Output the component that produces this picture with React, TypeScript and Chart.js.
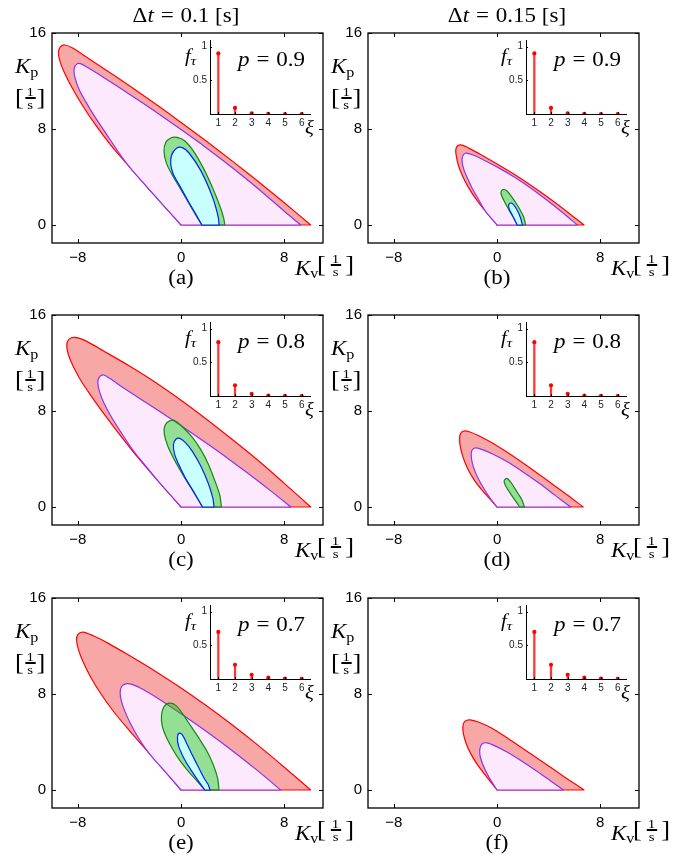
import React, { useEffect, useRef } from 'react';
import { Chart, registerables } from 'chart.js';
Chart.register(...registerables);

// ---------- data ----------
const kvTicks = [-8, 0, 8];
const kpTicks = [0, 8, 16];
const xiTicks = [1, 2, 3, 4, 5, 6];
const fTicks = [0.5, 1];
const xiValues = [1, 2, 3, 4, 5, 6];
const fTau09 = [0.9, 0.09, 0.009, 0.001, 0.0001, 0.00001];
const fTau08 = [0.8, 0.16, 0.032, 0.0064, 0.0013, 0.0003];
const fTau07 = [0.7, 0.21, 0.063, 0.019, 0.0057, 0.0017];

type P = [number, number];
// (a) dt=0.1, p=0.9
const redA: P[] = [[0,0],[10.05,0],[10.05,0],[8,1.85],[6,3.6],[4,5.3],[2,6.95],[0,8.55],[-2,10.1],[-4,11.6],[-6,13.05],[-7.4,14.05],[-8.4,14.75],[-9.0,15.0],[-9.35,14.85],[-9.5,14.4],[-9.4,13.7],[-9.0,12.6],[-8.4,11.35],[-7.6,9.9],[-6.6,8.3],[-5.4,6.6],[-4.0,4.85],[-2.6,3.12],[-1.3,1.56],[0,0]];
const purpleA: P[] = [[0,0],[9.28,0],[9.28,0],[8,1.15],[6,3.0],[4,4.75],[2,6.4],[0,7.95],[-2,9.45],[-4,10.9],[-6,12.3],[-7.2,13.1],[-7.8,13.45],[-8.15,13.35],[-8.3,12.9],[-8.2,12.2],[-7.9,11.3],[-7.4,10.3],[-6.7,9.05],[-5.8,7.6],[-4.8,6.0],[-4.0,4.85],[-2.6,3.12],[-1.3,1.56],[0,0]];
const greenA: P[] = [[1.6,0],[3.39,0],[3.39,0],[3.3,0.6],[3.0,1.6],[2.4,3.2],[1.7,4.8],[1.0,6.1],[0.3,7.0],[-0.3,7.3],[-0.8,7.25],[-1.2,6.85],[-1.32,6.15],[-1.15,5.2],[-0.75,4.3],[-0.2,3.3],[0.5,2.0],[1.1,0.9],[1.6,0]];
const blueA: P[] = [[1.62,0],[2.95,0],[2.95,0],[2.87,0.73],[2.43,2.36],[1.53,4.53],[0.62,6.0],[0.1,6.45],[-0.35,6.4],[-0.72,5.85],[-0.8,5.1],[-0.62,4.3],[-0.12,3.3],[0.55,2.0],[1.12,0.95],[1.62,0]];
// (b) dt=0.15, p=0.9
const redB: P[] = [[0,0],[6.74,0],[6.74,0],[5.5,1.05],[4.2,2.1],[2.9,3.1],[1.6,4.05],[0.3,4.9],[-1.0,5.7],[-2.0,6.3],[-2.7,6.65],[-3.05,6.6],[-3.2,6.25],[-3.15,5.7],[-3.0,5.0],[-2.7,4.15],[-2.25,3.2],[-1.65,2.2],[-0.9,1.15],[0,0]];
const purpleB: P[] = [[0,0],[6.22,0],[6.22,0],[5.0,1.1],[3.8,2.12],[2.6,3.08],[1.4,3.95],[0.2,4.72],[-1.0,5.4],[-1.9,5.85],[-2.45,5.98],[-2.68,5.7],[-2.7,5.2],[-2.55,4.55],[-2.25,3.8],[-1.9,3.0],[-1.5,2.25],[-0.9,1.15],[0,0]];
const greenB: P[] = [[1.57,0],[2.22,0],[2.22,0],[2.05,0.7],[1.6,1.6],[1.1,2.4],[0.75,2.85],[0.45,2.95],[0.3,2.7],[0.5,2.1],[0.95,1.2],[1.3,0.55],[1.57,0]];
const blueB: P[] = [[1.57,0],[1.96,0],[1.96,0],[1.82,0.6],[1.5,1.35],[1.2,1.78],[0.97,1.8],[0.9,1.5],[1.12,0.95],[1.38,0.42],[1.57,0]];
// (c) dt=0.1, p=0.8
const redC: P[] = [[0,0],[10.05,0],[10.05,0],[8,1.97],[6,3.85],[4,5.6],[2,7.3],[0,8.9],[-2,10.4],[-4,11.75],[-6,13.0],[-7.3,13.8],[-8.0,14.1],[-8.5,14.1],[-8.8,13.8],[-8.85,13.3],[-8.7,12.6],[-8.35,11.7],[-7.8,10.6],[-7.0,9.3],[-6.0,7.8],[-4.8,6.1],[-3.4,4.2],[-1.8,2.2],[0,0]];
const purpleC: P[] = [[0,0],[8.5,0],[8.5,0],[7,1.3],[5,2.95],[3,4.55],[1,6.05],[-1,7.5],[-3,8.9],[-4.5,9.95],[-5.5,10.7],[-6.0,11.0],[-6.35,10.8],[-6.45,10.3],[-6.3,9.55],[-5.95,8.6],[-5.4,7.5],[-4.7,6.3],[-3.9,5.0],[-3.0,3.75],[-1.8,2.2],[0,0]];
const greenC: P[] = [[1.65,0],[3.13,0],[3.13,0],[3.0,1.0],[2.56,2.36],[2.1,3.6],[1.52,4.8],[0.8,5.9],[0.1,6.69],[-0.4,7.15],[-0.85,7.2],[-1.25,6.8],[-1.3,6.1],[-1.0,5.0],[-0.45,3.8],[0.3,2.4],[1.0,1.2],[1.65,0]];
const blueC: P[] = [[1.67,0],[2.56,0],[2.56,0],[2.45,0.8],[2.1,2.0],[1.52,3.44],[0.9,4.6],[0.36,5.34],[-0.1,5.72],[-0.4,5.65],[-0.59,5.2],[-0.5,4.4],[-0.2,3.6],[0.32,2.45],[1.02,1.2],[1.67,0]];
// (d) dt=0.15, p=0.8
const redD: P[] = [[0,0],[6.68,0],[6.68,0],[5.5,0.96],[4.3,1.9],[3.1,2.84],[1.9,3.75],[0.7,4.62],[-0.5,5.42],[-1.5,5.98],[-2.1,6.25],[-2.5,6.34],[-2.8,6.18],[-2.9,5.75],[-2.85,5.05],[-2.65,4.2],[-2.3,3.25],[-1.8,2.3],[-1.2,1.45],[-0.6,0.72],[0,0]];
const purpleD: P[] = [[0,0],[5.7,0],[5.7,0],[4.5,0.97],[3.3,1.95],[2.1,2.85],[0.9,3.7],[-0.3,4.4],[-1.2,4.8],[-1.7,4.93],[-1.95,4.7],[-2.0,4.25],[-1.9,3.6],[-1.7,2.95],[-1.4,2.25],[-1.0,1.5],[-0.55,0.75],[0,0]];
const greenD: P[] = [[1.75,0],[2.12,0],[2.12,0],[1.95,0.55],[1.7,1.0],[1.35,1.6],[1.0,2.15],[0.75,2.38],[0.55,2.2],[0.65,1.8],[1.05,1.1],[1.4,0.55],[1.75,0]];
// (e) dt=0.1, p=0.7
const redE: P[] = [[0,0],[10.04,0],[10.04,0],[8,1.9],[6,3.7],[4,5.4],[2,7.0],[0,8.5],[-2,9.9],[-4,11.2],[-5.6,12.2],[-6.8,12.85],[-7.6,13.15],[-8.0,12.95],[-8.1,12.5],[-7.95,11.7],[-7.6,10.7],[-7.0,9.4],[-6.2,8.0],[-5.2,6.5],[-4.0,4.95],[-2.7,3.35],[-1.35,1.68],[0,0]];
const purpleE: P[] = [[0,0],[7.72,0],[7.72,0],[6,1.55],[4,3.25],[2,4.85],[0,6.35],[-1.6,7.5],[-2.9,8.35],[-3.8,8.8],[-4.3,8.85],[-4.62,8.6],[-4.72,8.1],[-4.62,7.4],[-4.35,6.55],[-3.95,5.6],[-3.45,4.6],[-2.85,3.6],[-2.2,2.7],[-1.35,1.68],[0,0]];
const greenE: P[] = [[1.83,0],[2.94,0],[2.94,0],[2.85,0.9],[2.5,2.1],[2.04,3.17],[1.4,4.3],[0.75,5.34],[0.15,6.3],[-0.41,7.05],[-0.93,7.24],[-1.35,6.9],[-1.52,6.15],[-1.45,5.3],[-1.19,4.53],[-0.65,3.4],[-0.03,2.36],[0.65,1.45],[1.26,0.73],[1.83,0]];
const blueE: P[] = [[1.85,0],[2.25,0],[2.25,0],[2.1,0.45],[1.78,1.0],[1.3,2.0],[0.88,2.9],[0.45,3.85],[0.1,4.6],[-0.15,4.74],[-0.28,4.4],[-0.2,3.7],[0.23,2.63],[0.75,1.7],[1.28,0.85],[1.85,0]];
// (f) dt=0.15, p=0.7
const redF: P[] = [[0,0],[6.74,0],[6.74,0],[5.6,0.82],[4.4,1.7],[3.2,2.58],[2.0,3.46],[0.8,4.33],[-0.4,5.15],[-1.4,5.65],[-2.1,5.85],[-2.5,5.72],[-2.65,5.3],[-2.6,4.65],[-2.4,3.9],[-2.05,3.05],[-1.55,2.15],[-0.85,1.15],[0,0]];
const purpleF: P[] = [[0,0],[5.14,0],[5.14,0],[4.1,0.8],[3.0,1.63],[1.9,2.42],[0.8,3.15],[-0.2,3.7],[-0.8,3.93],[-1.15,3.85],[-1.33,3.45],[-1.33,2.95],[-1.2,2.4],[-0.95,1.75],[-0.62,1.05],[-0.3,0.5],[0,0]];

const dtLabels = ['0.1', '0.15'];
const panels = [
  { id: 'a', col: 0, row: 0, p: '0.9', f: fTau09, regions: [redA, purpleA, greenA, blueA] },
  { id: 'b', col: 1, row: 0, p: '0.9', f: fTau09, regions: [redB, purpleB, greenB, blueB] },
  { id: 'c', col: 0, row: 1, p: '0.8', f: fTau08, regions: [redC, purpleC, greenC, blueC] },
  { id: 'd', col: 1, row: 1, p: '0.8', f: fTau08, regions: [redD, purpleD, greenD] },
  { id: 'e', col: 0, row: 2, p: '0.7', f: fTau07, regions: [redE, purpleE, greenE, blueE] },
  { id: 'f', col: 1, row: 2, p: '0.7', f: fTau07, regions: [redF, purpleF] },
];

// ---------- layout / style ----------
const W = 271, H = 215;
const colLeft = [52, 368];
const rowTop = [28, 310, 593];
const titleCenter = [186, 507];
const PAD_L = 45, PAD_T = 10, PAD_R = 10, PAD_B = 30;
const SANS = "'Liberation Sans', Arial, sans-serif";
const SERIF = "'Liberation Serif', 'Times New Roman', serif";
const regionStyles = [
  { line: '#ff0000', fill: '#f8a7a7' },
  { line: '#9030f0', fill: '#fde9fd' },
  { line: '#118a11', fill: 'rgba(0,210,0,0.42)' },
  { line: '#0022ff', fill: '#c8ffff' },
];

const fillPlugin = {
  id: 'regionFill',
  beforeDatasetDraw(chart: any, args: any) {
    const meta = args.meta;
    const el = meta.dataset;
    const ds: any = chart.data.datasets[args.index];
    if (!el || !ds || !ds.regionFill) return;
    const ctx = chart.ctx;
    const a = chart.chartArea;
    ctx.save();
    ctx.beginPath();
    ctx.rect(a.left, a.top, a.right - a.left, a.bottom - a.top);
    ctx.clip();
    if (typeof el.updateControlPoints === 'function') el.updateControlPoints(a, 'x');
    ctx.beginPath();
    if (typeof el.path === 'function') {
      el.path(ctx);
    } else {
      meta.data.forEach((pt: any, i: number) => (i ? ctx.lineTo(pt.x, pt.y) : ctx.moveTo(pt.x, pt.y)));
    }
    ctx.closePath();
    ctx.fillStyle = ds.regionFill;
    ctx.fill();
    ctx.restore();
  },
};

const boxPlugin = {
  id: 'mbox',
  afterDraw(chart: any) {
    const { ctx, chartArea: a, scales } = chart;
    ctx.save();
    ctx.strokeStyle = '#000';
    ctx.lineWidth = 1.3;
    ctx.strokeRect(a.left, a.top, a.right - a.left, a.bottom - a.top);
    ctx.lineWidth = 1;
    const tl = 4;
    ctx.beginPath();
    for (const v of kvTicks) {
      const x = Math.round(scales.x.getPixelForValue(v)) + 0.5;
      ctx.moveTo(x, a.bottom); ctx.lineTo(x, a.bottom - tl);
      ctx.moveTo(x, a.top); ctx.lineTo(x, a.top + tl);
    }
    for (const v of kpTicks) {
      const y = Math.round(scales.y.getPixelForValue(v)) + 0.5;
      ctx.moveTo(a.left, y); ctx.lineTo(a.left + tl, y);
      ctx.moveTo(a.right, y); ctx.lineTo(a.right - tl, y);
    }
    ctx.stroke();
    ctx.restore();
  },
};

const insetTickPlugin = {
  id: 'itick',
  afterDraw(chart: any) {
    const { ctx, chartArea: a, scales } = chart;
    ctx.save();
    ctx.strokeStyle = '#000';
    ctx.lineWidth = 1;
    ctx.beginPath();
    for (const v of fTicks) {
      const y = Math.round(scales.y.getPixelForValue(v)) + 0.5;
      ctx.moveTo(a.left, y); ctx.lineTo(a.left + 2, y);
    }
    for (const v of xiTicks) {
      const x = Math.round(scales.x.getPixelForValue(v)) + 0.5;
      ctx.moveTo(x, a.bottom); ctx.lineTo(x, a.bottom - 2);
    }
    ctx.stroke();
    ctx.restore();
  },
};

const minus = (v: number) => (v < 0 ? '\u2212' + Math.abs(v) : String(v));

function RegionChart({ left, top, regions }: { left: number; top: number; regions: P[][] }) {
  const ref = useRef<HTMLCanvasElement>(null);
  useEffect(() => {
    const chart = new Chart(ref.current as HTMLCanvasElement, {
      type: 'line',
      data: {
        datasets: regions.map((pts, i) => ({
          data: pts.map(([x, y]) => ({ x, y })),
          borderColor: regionStyles[i].line,
          backgroundColor: regionStyles[i].fill,
          regionFill: regionStyles[i].fill,
          borderWidth: 1.2,
          borderJoinStyle: 'round',
          borderCapStyle: 'round',
          pointRadius: 0,
          tension: 0.3,
          fill: false,
          order: 10 - i,
        })) as any,
      },
      options: {
        responsive: false,
        animation: false,
        events: [],
        layout: { padding: { left: 0, top: PAD_T, right: PAD_R, bottom: 0 } },
        plugins: { legend: { display: false }, tooltip: { enabled: false } },
        scales: {
          x: {
            type: 'linear', min: -10, max: 11,
            grid: { display: false, drawTicks: false },
            border: { display: false },
            ticks: { font: { family: SANS, size: 15 }, color: '#000', padding: 6, callback: (v: any) => minus(Number(v)) },
            afterBuildTicks: (s: any) => { s.ticks = kvTicks.map((v) => ({ value: v })); },
            afterFit: (s: any) => { s.height = PAD_B; },
          },
          y: {
            type: 'linear', min: -1.5, max: 16,
            grid: { display: false, drawTicks: false },
            border: { display: false },
            ticks: { font: { family: SANS, size: 15 }, color: '#000', padding: 6 },
            afterBuildTicks: (s: any) => { s.ticks = kpTicks.map((v) => ({ value: v })); },
            afterFit: (s: any) => { s.width = PAD_L; },
          },
        },
      } as any,
      plugins: [fillPlugin, boxPlugin],
    });
    return () => chart.destroy();
  }, []);
  return (
    <canvas
      ref={ref}
      width={PAD_L + W + PAD_R}
      height={PAD_T + H + PAD_B}
      style={{ position: 'absolute', left: left - PAD_L, top: top - PAD_T }}
    />
  );
}

const IW = 100, IH = 79, IL = 24, IT = 4, IR = 6, IB = 16;
function InsetChart({ left, top, values }: { left: number; top: number; values: number[] }) {
  const ref = useRef<HTMLCanvasElement>(null);
  useEffect(() => {
    const pts = xiValues.map((x, i) => ({ x, y: values[i] }));
    const chart = new Chart(ref.current as HTMLCanvasElement, {
      type: 'bar',
      data: {
        datasets: [
          { type: 'scatter', data: pts, pointRadius: 2.1, pointBackgroundColor: '#ff0000', pointBorderWidth: 0, backgroundColor: '#ff0000', order: 0 } as any,
          { type: 'bar', data: pts, backgroundColor: '#ff3535', barThickness: 1.6, order: 1 } as any,
        ],
      },
      options: {
        responsive: false,
        animation: false,
        events: [],
        layout: { padding: { left: 0, top: IT, right: IR, bottom: 0 } },
        plugins: { legend: { display: false }, tooltip: { enabled: false } },
        scales: {
          x: {
            type: 'linear', min: 0.5, max: 6.5, offset: false,
            grid: { display: false, drawTicks: false, offset: false },
            border: { display: true, color: '#000', width: 1 },
            ticks: { font: { family: SANS, size: 10 }, color: '#222', padding: 3, callback: (v: any) => String(Number(v)) },
            afterBuildTicks: (s: any) => { s.ticks = xiTicks.map((v) => ({ value: v })); },
            afterFit: (s: any) => { s.height = IB; },
          },
          y: {
            type: 'linear', min: 0, max: 1.1,
            grid: { display: false, drawTicks: false },
            border: { display: true, color: '#000', width: 1 },
            ticks: { font: { family: SANS, size: 10 }, color: '#222', padding: 3, callback: (v: any) => String(Number(v)) },
            afterBuildTicks: (s: any) => { s.ticks = fTicks.map((v) => ({ value: v })); },
            afterFit: (s: any) => { s.width = IL; },
          },
        },
      } as any,
      plugins: [insetTickPlugin],
    });
    return () => chart.destroy();
  }, []);
  return (
    <canvas
      ref={ref}
      width={IL + IW + IR}
      height={IT + IH + IB}
      style={{ position: 'absolute', left: left - IL, top: top - IT }}
    />
  );
}

const SX = 1.15;
const base = (fs: number): React.CSSProperties => ({
  position: 'absolute', fontFamily: SERIF, fontSize: fs, lineHeight: `${fs}px`,
  whiteSpace: 'nowrap', color: '#000', transform: `scaleX(${SX})`, transformOrigin: 'left center',
});
const topOf = (baseline: number, fs: number) => baseline - 0.8375 * fs;
const sub = (fs: number, dy: number, italic = false): React.CSSProperties => ({
  fontSize: fs, position: 'relative', top: dy, fontStyle: italic ? 'italic' : 'normal',
});

function Bracket({ left, top, gap }: { left: number; top: number; gap: number }) {
  return (
    <div style={{ ...base(23), left, top, height: 24, display: 'flex', alignItems: 'center' }}>
      <span style={{ fontSize: 23, lineHeight: '24px' }}>[</span>
      <span style={{ display: 'flex', flexDirection: 'column', alignItems: 'center', margin: `0 ${gap}px`, fontSize: 13 }}>
        <span style={{ lineHeight: '11px' }}>1</span>
        <span style={{ width: 9, height: 1.2, background: '#000', margin: '0.5px 0' }} />
        <span style={{ lineHeight: '11px' }}>s</span>
      </span>
      <span style={{ fontSize: 23, lineHeight: '24px' }}>]</span>
    </div>
  );
}

function PanelTexts({ L, T, id, p }: { L: number; T: number; id: string; p: string }) {
  return (
    <>
      <div style={{ ...base(20), left: L - 37, top: topOf(T + 45, 20) }}>
        <i>K</i><span style={sub(14, 4)}>p</span>
      </div>
      <Bracket left={L - 37} top={T + 58} gap={1} />
      <div style={{ ...base(20), left: L + 243, top: topOf(T + 247, 20) }}>
        <i>K</i><span style={sub(14, 3)}>v</span>
      </div>
      <Bracket left={L + 265} top={T + 225} gap={4} />
      <div style={{ ...base(20), left: L + 128.5, top: topOf(T + 256, 20), transform: `translateX(-50%) scaleX(${SX})`, transformOrigin: 'center center' }}>
        ({id})
      </div>
      <div style={{ ...base(20), left: L + 186, top: topOf(T + 38, 20) }}>
        <i>p</i><span style={{ margin: '0 6px' }}>=</span>{p}
      </div>
      <div style={{ ...base(18), left: L + 133, top: topOf(T + 34, 18) }}>
        <i>f</i><span style={sub(13, 3, true)}>τ</span>
      </div>
      <div style={{ ...base(18), left: L + 253, top: topOf(T + 105, 18) }}>
        <i>ξ</i>
      </div>
    </>
  );
}

export default function App() {
  return (
    <div style={{ position: 'absolute', left: 0, top: 0, width: 688, height: 858, background: '#fff', overflow: 'hidden' }}>
      {panels.map((pn) => {
        const L = colLeft[pn.col];
        const T = rowTop[pn.row];
        return (
          <React.Fragment key={pn.id}>
            <RegionChart left={L} top={T} regions={pn.regions} />
            <InsetChart left={L + 158} top={T + 7} values={pn.f} />
            <PanelTexts L={L} T={T} id={pn.id} p={pn.p} />
          </React.Fragment>
        );
      })}
      {dtLabels.map((dt, i) => (
        <div key={dt} style={{ ...base(20), left: titleCenter[i], top: topOf(22, 20), transform: `translateX(-50%) scaleX(${SX})`, transformOrigin: 'center center' }}>
          Δ<i>t</i><span style={{ margin: '0 6px' }}>=</span>{dt}<span style={{ marginLeft: 5 }}>[s]</span>
        </div>
      ))}
    </div>
  );
}
